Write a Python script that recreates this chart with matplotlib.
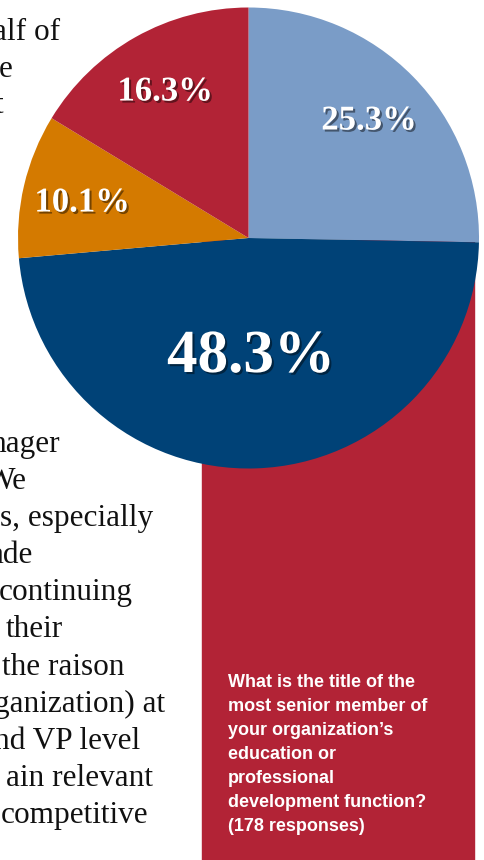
import matplotlib
matplotlib.use("Agg")
import matplotlib.pyplot as plt
import matplotlib.patheffects as pe
from matplotlib.patches import Rectangle

# share of respondents by title of the most senior education / PD officer
shares = [25.3, 48.3, 10.1, 16.3]
labels = ["25.3%", "48.3%", "10.1%", "16.3%"]
colors = ["#7a9cc7", "#004277", "#d47a00", "#b22336"]
label_pos = [(369, 121), (251, 357), (82, 203), (165, 92)]
label_size = [25, 44, 25, 25]

question = ("What is the title of the\nmost senior member of\nyour organization\u2019s\n"
            "education or\nprofessional\ndevelopment function?\n(178 responses)")

# clipped body copy running down the left side of the page
body_top = [("alf of", 60, 40), ("e", 13, 77), ("t", 3, 113)]
body_bottom = [("nager", 60, 452), ("We", 27, 489), ("s, especially", 153, 526),
               ("ade", 33, 563), ("continuing", 133, 600), ("their", 63, 637),
               ("the raison", 125, 675), ("ganization) at", 165, 712),
               ("nd VP level", 140, 749), ("ain relevant", 153, 786),
               ("competitive", 148, 823)]

W, H = 484, 860
fig = plt.figure(figsize=(W / 100, H / 100), dpi=100)
ax = fig.add_axes([0, 0, 1, 1])

# red panel behind the pie
ax.add_patch(Rectangle((202, 0), 272, H - 240, color="#b22336", zorder=1))

cx, cy, r = 248.5, H - 238, 230.5
wedges, _ = ax.pie(shares, colors=colors, startangle=90, counterclock=False,
                   center=(cx, cy), radius=r, frame=True,
                   wedgeprops=dict(linewidth=0))
for w in wedges:
    w.set_zorder(2)
ax.set_xlim(0, W)
ax.set_ylim(0, H)
ax.set_aspect("equal")
ax.axis("off")

shadow = [pe.SimplePatchShadow(offset=(1.5, -1.5), shadow_rgbFace="black", alpha=0.45),
          pe.Normal()]
for lab, (x, y), fs in zip(labels, label_pos, label_size):
    ax.text(x, H - y, lab, ha="center", va="center", color="white",
            fontsize=fs, fontweight="bold", family="Liberation Serif",
            path_effects=shadow, zorder=5)

ax.text(228, H - 674, question, ha="left", va="top", color="white",
        fontsize=13, fontweight="bold", family="Liberation Sans",
        linespacing=1.54, zorder=5)

for txt, x, y in body_top + body_bottom:
    ax.text(x, H - y, txt, ha="right", va="baseline", color="#111111",
            fontsize=22.5, family="Liberation Serif", zorder=0)

fig.savefig("out.png", dpi=100, facecolor="white")
